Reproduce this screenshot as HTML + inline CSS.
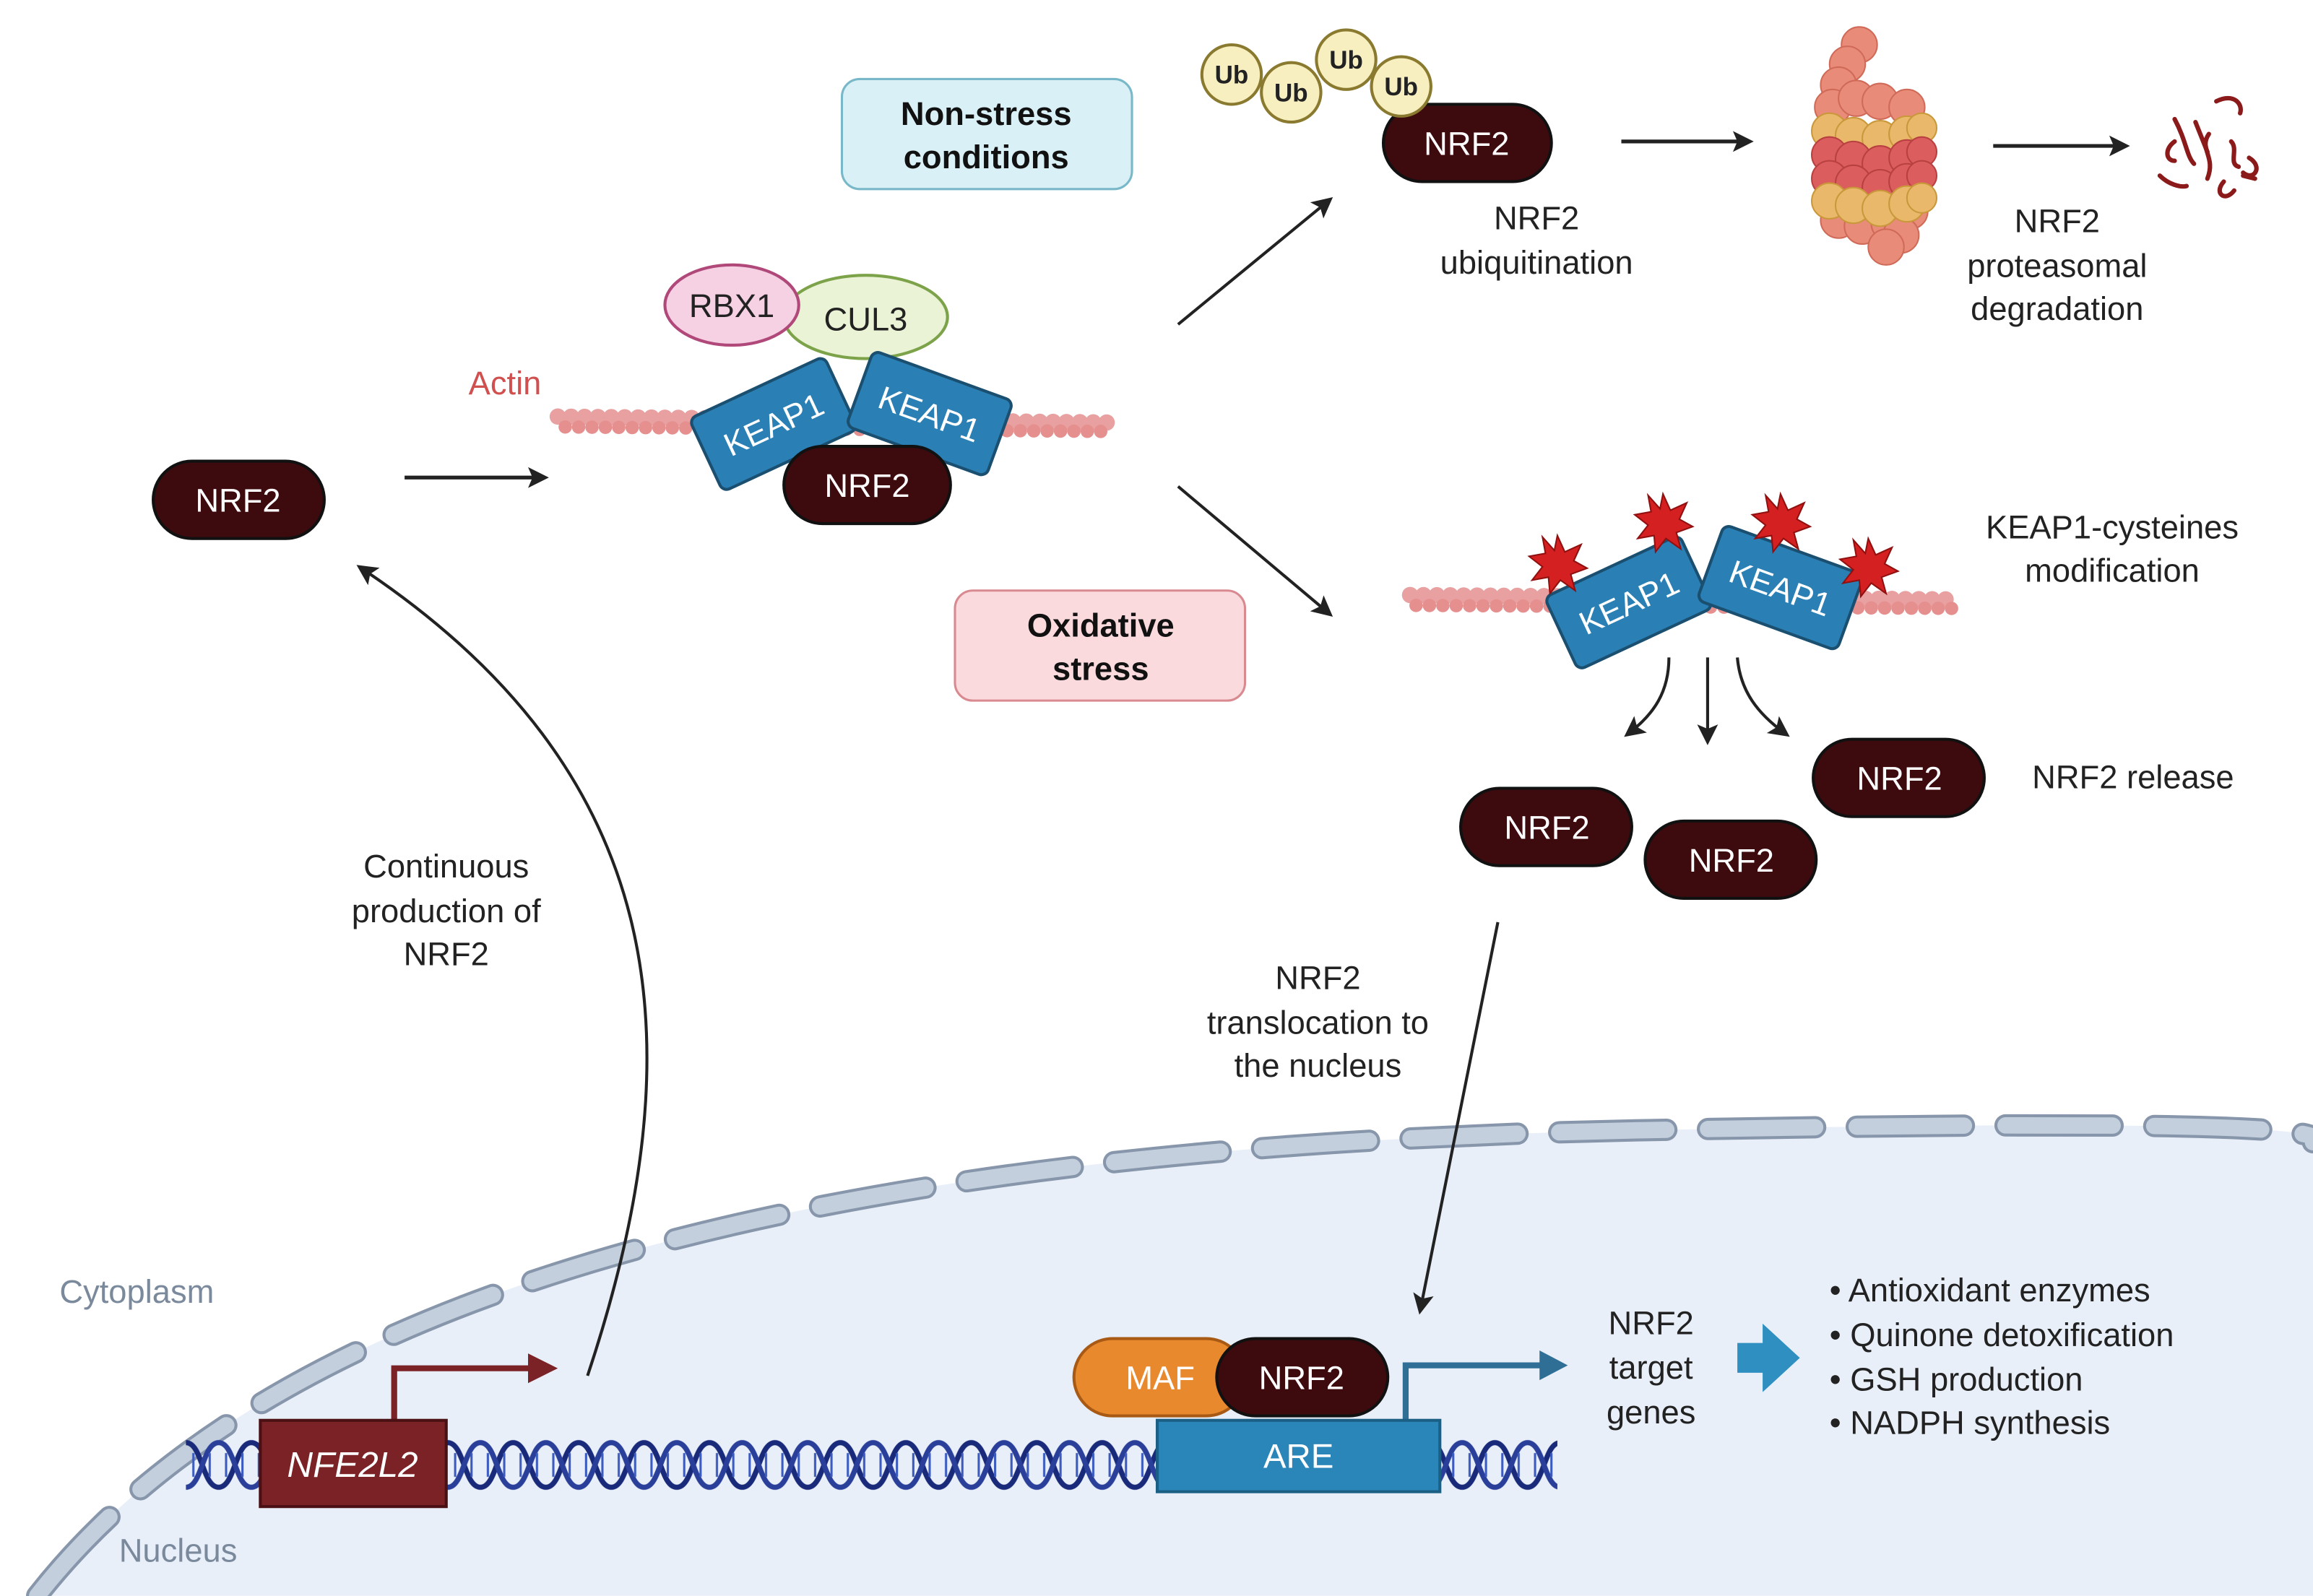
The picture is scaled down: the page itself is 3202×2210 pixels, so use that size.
<!DOCTYPE html>
<html><head><meta charset="utf-8"><style>
html,body{margin:0;padding:0;background:#fff;}
svg{display:block;}
text{font-family:"Liberation Sans",sans-serif;}
</style></head><body>
<svg width="3202" height="2210" viewBox="0 0 1555 1073" xmlns="http://www.w3.org/2000/svg">
<defs>
<marker id="ah2" markerWidth="14" markerHeight="14" refX="10" refY="7" orient="auto" markerUnits="userSpaceOnUse"><path d="M0,0 L14,7 L0,14 L3,7 Z" fill="#222"/></marker>
<pattern id="dna" x="125" y="965" width="44" height="40" patternUnits="userSpaceOnUse">
<path d="M0,5 C11,5 11,35 22,35 C33,35 33,5 44,5" fill="none" stroke="#1a2a7a" stroke-width="3.5"/>
<path d="M0,35 C11,35 11,5 22,5 C33,35 33,35 44,35" fill="none" stroke="none"/>
<path d="M0,35 C11,35 11,5 22,5 C33,5 33,35 44,35" fill="none" stroke="#2a3f9a" stroke-width="3.5"/>
<path d="M5,12 V28 M16,12 V28 M27,12 V28 M38,12 V28" stroke="#3b5bc0" stroke-width="1.5"/>
</pattern>
</defs>
<rect width="1555" height="1073" fill="#fff"/>
<path d="M25,1073 C200,850 600,770 1100,760 S1555,765 1555,768 L1555,1073 Z" fill="#e8eff8"/>
<path d="M25,1073 C200,850 600,770 1100,760 S1555,765 1555,768" fill="none" stroke="#8796ab" stroke-width="15" stroke-dasharray="72 28" stroke-linecap="round"/>
<path d="M25,1073 C200,850 600,770 1100,760 S1555,765 1555,768" fill="none" stroke="#c3cfdd" stroke-width="11" stroke-dasharray="72 28" stroke-linecap="round"/>
<text x="40" y="876" font-size="22" fill="#7a8a9c">Cytoplasm</text>
<text x="80" y="1050" font-size="22" fill="#7a8a9c">Nucleus</text>
<rect x="125" y="965" width="922" height="40" fill="url(#dna)"/>
<path d="M265,955 V920 H365" fill="none" stroke="#7a2226" stroke-width="4"/>
<path d="M355,910 L375,920 L355,930 Z" fill="#7a2226"/>
<rect x="175" y="955" width="125" height="58" fill="#7a2226" stroke="#4a1014" stroke-width="2"/>
<text x="237" y="993" font-size="24" fill="#fff" font-style="italic" text-anchor="middle">NFE2L2</text>
<path d="M945,955 V918 H1042" fill="none" stroke="#2f6f96" stroke-width="4"/>
<path d="M1035,908 L1054,918 L1035,928 Z" fill="#2f6f96"/>
<rect x="778" y="955" width="190" height="48" fill="#2a86b8" stroke="#1b5f85" stroke-width="2"/>
<text x="873" y="987" font-size="23" fill="#fff" text-anchor="middle">ARE</text>
<rect x="722" y="900" width="115" height="52" rx="26" fill="#e8892e" stroke="#a85a15" stroke-width="2"/>
<text x="780" y="934" font-size="22" fill="#fff" text-anchor="middle">MAF</text>
<g font-size="22" fill="#fff" text-anchor="middle">
<rect x="818" y="900" width="115" height="52" rx="26" fill="#3d0a0e" stroke="#111" stroke-width="2"/>
<text x="875" y="934">NRF2</text>
<rect x="103" y="310" width="115" height="52" rx="26" fill="#3d0a0e" stroke="#111" stroke-width="2"/>
<text x="160" y="344">NRF2</text>
<rect x="930" y="70" width="113" height="52" rx="26" fill="#3d0a0e" stroke="#111" stroke-width="2"/>
<text x="986" y="104">NRF2</text>
<rect x="982" y="530" width="115" height="52" rx="26" fill="#3d0a0e" stroke="#111" stroke-width="2"/>
<text x="1040" y="564">NRF2</text>
<rect x="1106" y="552" width="115" height="52" rx="26" fill="#3d0a0e" stroke="#111" stroke-width="2"/>
<text x="1164" y="586">NRF2</text>
<rect x="1219" y="497" width="115" height="52" rx="26" fill="#3d0a0e" stroke="#111" stroke-width="2"/>
<text x="1277" y="531">NRF2</text>
</g>
<g font-size="22" fill="#222">
<text x="1110" y="897" text-anchor="middle">NRF2</text>
<text x="1110" y="927" text-anchor="middle">target</text>
<text x="1110" y="957" text-anchor="middle">genes</text>
<text x="1230" y="875">•  Antioxidant enzymes</text>
<text x="1230" y="905">•  Quinone detoxification</text>
<text x="1230" y="935">•  GSH production</text>
<text x="1230" y="964">•  NADPH synthesis</text>
</g>
<path d="M1168,903 H1185 V890 L1210,913 L1185,936 V923 H1168 Z" fill="#2e8fc0"/>
<path d="M395,925 C470,700 450,520 243,382" fill="none" stroke="#222" stroke-width="2" marker-end="url(#ah2)"/>
<line x1="1007" y1="620" x2="955" y2="880" stroke="#222" stroke-width="2" marker-end="url(#ah2)"/>
<line x1="272" y1="321" x2="365" y2="321" stroke="#222" stroke-width="2.5" marker-end="url(#ah2)"/>
<line x1="792" y1="218" x2="893" y2="135" stroke="#222" stroke-width="2" marker-end="url(#ah2)"/>
<line x1="792" y1="327" x2="893" y2="412" stroke="#222" stroke-width="2" marker-end="url(#ah2)"/>
<line x1="1090" y1="95" x2="1175" y2="95" stroke="#222" stroke-width="2.5" marker-end="url(#ah2)"/>
<line x1="1340" y1="98" x2="1428" y2="98" stroke="#222" stroke-width="2.5" marker-end="url(#ah2)"/>
<path d="M1122,442 C1122,465 1112,480 1095,493" fill="none" stroke="#222" stroke-width="2" marker-end="url(#ah2)"/>
<line x1="1148" y1="442" x2="1148" y2="497" stroke="#222" stroke-width="2" marker-end="url(#ah2)"/>
<path d="M1168,442 C1170,465 1182,480 1200,493" fill="none" stroke="#222" stroke-width="2" marker-end="url(#ah2)"/>
<g font-size="22" fill="#222" text-anchor="middle">
<text x="300" y="590">Continuous</text>
<text x="300" y="620">production of</text>
<text x="300" y="649">NRF2</text>
<text x="886" y="665">NRF2</text>
<text x="886" y="695">translocation to</text>
<text x="886" y="724">the nucleus</text>
<text x="1033" y="154">NRF2</text>
<text x="1033" y="184">ubiquitination</text>
<text x="1383" y="156">NRF2</text>
<text x="1383" y="186">proteasomal</text>
<text x="1383" y="215">degradation</text>
<text x="1420" y="362">KEAP1-cysteines</text>
<text x="1420" y="391">modification</text>
<text x="1434" y="530">NRF2 release</text>
</g>
<text x="315" y="265" font-size="22" fill="#d05050">Actin</text>
<rect x="566" y="53" width="195" height="74" rx="12" fill="#d9f0f6" stroke="#79b8c8" stroke-width="1.5"/>
<text x="663" y="84" font-size="22" font-weight="bold" fill="#111" text-anchor="middle">Non-stress</text>
<text x="663" y="113" font-size="22" font-weight="bold" fill="#111" text-anchor="middle">conditions</text>
<rect x="642" y="397" width="195" height="74" rx="12" fill="#fadadd" stroke="#d98a90" stroke-width="1.5"/>
<text x="740" y="428" font-size="22" font-weight="bold" fill="#111" text-anchor="middle">Oxidative</text>
<text x="740" y="457" font-size="22" font-weight="bold" fill="#111" text-anchor="middle">stress</text>
<g stroke-linecap="round" fill="none">
<path d="M375,280 L745,284" stroke="#e8a0a0" stroke-width="11" stroke-dasharray="0 9"/>
<path d="M380,287 L740,290" stroke="#e58f8f" stroke-width="9" stroke-dasharray="0 9"/>
<path d="M948,400 L1315,403" stroke="#e8a0a0" stroke-width="11" stroke-dasharray="0 9"/>
<path d="M952,407 L1312,409" stroke="#e58f8f" stroke-width="9" stroke-dasharray="0 9"/>
</g>
<ellipse cx="582" cy="213" rx="55" ry="28" fill="#eaf3d6" stroke="#7da34a" stroke-width="2"/>
<text x="582" y="222" font-size="22" fill="#222" text-anchor="middle">CUL3</text>
<ellipse cx="492" cy="205" rx="45" ry="27" fill="#f6d0e3" stroke="#b0487a" stroke-width="2"/>
<text x="492" y="213" font-size="22" fill="#222" text-anchor="middle">RBX1</text>
<g transform="translate(520,285) rotate(-25)"><rect x="-50" y="-27" width="100" height="54" rx="5" fill="#2a7fb5" stroke="#1b4f70" stroke-width="2"/><text x="0" y="8" font-size="22" fill="#fff" text-anchor="middle">KEAP1</text></g>
<g transform="translate(625,278) rotate(20)"><rect x="-50" y="-27" width="100" height="54" rx="5" fill="#2a7fb5" stroke="#1b4f70" stroke-width="2"/><text x="0" y="8" font-size="22" fill="#fff" text-anchor="middle">KEAP1</text></g>
<rect x="527" y="300" width="112" height="52" rx="26" fill="#3d0a0e" stroke="#111" stroke-width="2"/>
<text x="583" y="334" font-size="22" fill="#fff" text-anchor="middle">NRF2</text>
<g transform="translate(1095,405) rotate(-25)"><rect x="-50" y="-27" width="100" height="54" rx="5" fill="#2a7fb5" stroke="#1b4f70" stroke-width="2"/><text x="0" y="8" font-size="22" fill="#fff" text-anchor="middle">KEAP1</text></g>
<g transform="translate(1197,395) rotate(20)"><rect x="-50" y="-27" width="100" height="54" rx="5" fill="#2a7fb5" stroke="#1b4f70" stroke-width="2"/><text x="0" y="8" font-size="22" fill="#fff" text-anchor="middle">KEAP1</text></g>
<g fill="#d42020" stroke="#901010" stroke-width="1">
<polygon transform="translate(1047,380)" points="0,-20 5,-9 16,-14 11,-3 20,2 9,6 12,17 2,10 -5,19 -6,8 -17,10 -10,1 -19,-6 -8,-8 -10,-19 -2,-10"/>
<polygon transform="translate(1118,352)" points="0,-20 5,-9 16,-14 11,-3 20,2 9,6 12,17 2,10 -5,19 -6,8 -17,10 -10,1 -19,-6 -8,-8 -10,-19 -2,-10"/>
<polygon transform="translate(1197,352)" points="0,-20 5,-9 16,-14 11,-3 20,2 9,6 12,17 2,10 -5,19 -6,8 -17,10 -10,1 -19,-6 -8,-8 -10,-19 -2,-10"/>
<polygon transform="translate(1256,382)" points="0,-20 5,-9 16,-14 11,-3 20,2 9,6 12,17 2,10 -5,19 -6,8 -17,10 -10,1 -19,-6 -8,-8 -10,-19 -2,-10"/>
</g>
<g fill="#f7efc0" stroke="#8a7a30" stroke-width="2">
<circle cx="828" cy="50" r="20"/><circle cx="868" cy="62" r="20"/><circle cx="905" cy="40" r="20"/><circle cx="942" cy="58" r="20"/>
</g>
<g font-size="17" font-weight="bold" fill="#222" text-anchor="middle">
<text x="828" y="56">Ub</text><text x="868" y="68">Ub</text><text x="905" y="46">Ub</text><text x="942" y="64">Ub</text>
</g>
<!-- proteasome -->
<g stroke-width="1">
<g fill="#e88b78" stroke="#d06a58">
<circle cx="1250" cy="30" r="12"/><circle cx="1242" cy="43" r="12"/><circle cx="1236" cy="57" r="12"/>
<circle cx="1232" cy="72" r="12"/><circle cx="1248" cy="66" r="12"/><circle cx="1264" cy="68" r="12"/><circle cx="1282" cy="72" r="12"/>
<circle cx="1236" cy="148" r="12"/><circle cx="1252" cy="152" r="12"/><circle cx="1270" cy="150" r="12"/><circle cx="1284" cy="142" r="12"/>
<circle cx="1278" cy="158" r="12"/><circle cx="1268" cy="166" r="12"/>
</g>
<g fill="#e9b86a" stroke="#c9983a">
<circle cx="1230" cy="88" r="12"/><circle cx="1246" cy="91" r="12"/><circle cx="1264" cy="93" r="12"/><circle cx="1282" cy="90" r="12"/><circle cx="1292" cy="86" r="10"/>
</g>
<g fill="#db5d5d" stroke="#b84040">
<circle cx="1230" cy="104" r="12"/><circle cx="1246" cy="107" r="12"/><circle cx="1264" cy="110" r="12"/><circle cx="1282" cy="106" r="12"/><circle cx="1292" cy="102" r="10"/>
<circle cx="1230" cy="120" r="12"/><circle cx="1246" cy="123" r="12"/><circle cx="1264" cy="126" r="12"/><circle cx="1282" cy="122" r="12"/><circle cx="1292" cy="118" r="10"/>
</g>
<g fill="#e9b86a" stroke="#c9983a">
<circle cx="1230" cy="135" r="12"/><circle cx="1246" cy="138" r="12"/><circle cx="1264" cy="140" r="12"/><circle cx="1282" cy="137" r="12"/><circle cx="1292" cy="133" r="10"/>
</g>
</g>
<g fill="none" stroke="#8b1a1a" stroke-width="3" stroke-linecap="round">
<path d="M1462,80 C1470,95 1470,105 1475,110"/><path d="M1485,90 C1478,100 1490,105 1484,120"/>
<path d="M1490,68 C1502,62 1508,70 1506,76"/><path d="M1462,95 C1455,100 1456,108 1462,108"/>
<path d="M1500,95 C1505,100 1498,110 1505,112"/><path d="M1512,106 C1522,112 1515,122 1508,116"/>
<path d="M1452,118 C1458,124 1466,126 1470,125"/><path d="M1495,122 C1488,130 1496,136 1502,128"/>
<path d="M1476,82 L1484,102"/><path d="M1508,118 L1516,120"/>
</g>
</svg>
</body></html>
